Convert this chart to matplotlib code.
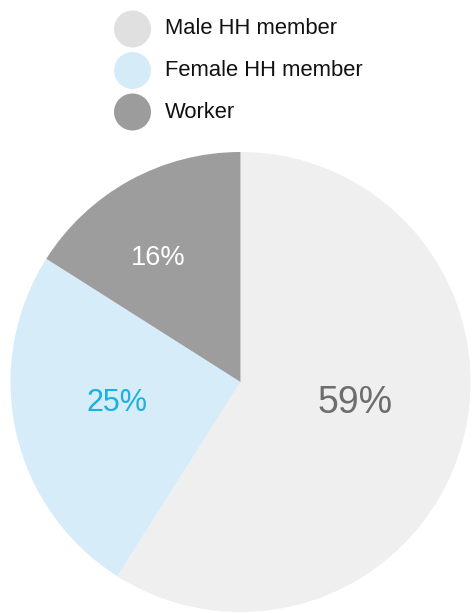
import matplotlib
matplotlib.use("Agg")
import matplotlib.pyplot as plt
from matplotlib.patches import Circle

plt.rcParams['font.family'] = ['Liberation Sans', 'DejaVu Sans']

categories = ["Male HH member", "Female HH member", "Worker"]
shares = [59, 25, 16]
pie_colors = ["#efefef", "#d6ecf9", "#9d9d9d"]
legend_colors = ["#e0e0e0", "#d6ebf8", "#9c9c9c"]
label_colors = ["#6d6d6d", "#1ab0e0", "#ffffff"]
label_sizes = [27, 22, 19.5]
label_pos = [(0.50, -0.09), (-0.535, -0.09), (-0.36, 0.54)]

W, H = 472, 613
fig = plt.figure(figsize=(W / 100, H / 100), dpi=100)

# pie: centre (240.5, 382) px, radius 230 px
cx, cy, r = 240.5, 382, 230
ax = fig.add_axes([(cx - r) / W, (H - cy - r) / H, 2 * r / W, 2 * r / H])
ax.pie(shares, colors=pie_colors, startangle=90, counterclock=False,
       radius=1, wedgeprops=dict(linewidth=0))
ax.set_xlim(-1, 1)
ax.set_ylim(-1, 1)
ax.set_aspect("equal")
ax.axis("off")
for v, (x, y), c, s in zip(shares, label_pos, label_colors, label_sizes):
    ax.text(x, y, f"{v}%", color=c, fontsize=s, ha="center", va="center")

# legend drawn in pixel coordinates
lax = fig.add_axes([0, 0, 1, 1])
lax.set_xlim(0, W)
lax.set_ylim(H, 0)
lax.axis("off")
lax.patch.set_alpha(0)
for i, (name, col) in enumerate(zip(categories, legend_colors)):
    y = 29 + 41.5 * i
    lax.add_patch(Circle((132.5, y), 18.5, color=col, lw=0))
    lax.text(165, y, name, fontsize=15.8, color="#111111", ha="left",
             va="center")

fig.savefig("out.png", dpi=100)
